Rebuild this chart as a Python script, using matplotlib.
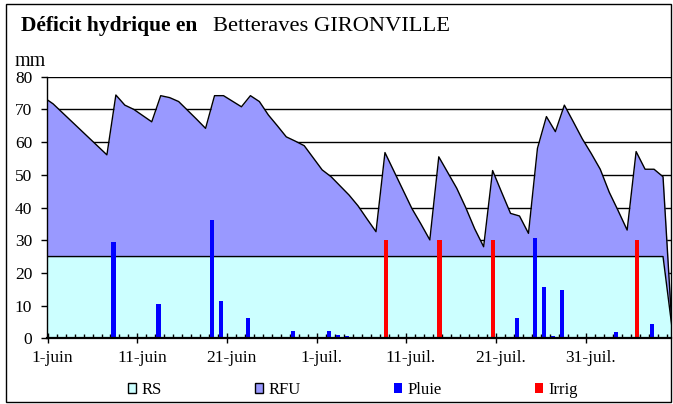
import matplotlib
matplotlib.use("Agg")
import matplotlib.pyplot as plt
from matplotlib.patches import Patch, Rectangle
from matplotlib.transforms import ScaledTranslation

plt.rcParams['font.family'] = ['Liberation Serif', 'DejaVu Serif']

# jour 0 = 1-juin (jour -1 = 31-mai, hors du cadre a gauche)
jours = list(range(-1, 70))
deficit_total = [
    73.6,
    71.7, 69.1, 66.5, 63.9, 61.3, 58.7, 56.1,
    74.4, 71.3, 70.0, 68.1, 66.2,
    74.2, 73.6, 72.4, 69.7, 67.0, 64.2,
    74.2, 74.2, 72.5, 70.8,
    74.2, 72.4, 68.3, 65.0, 61.6, 60.3, 58.9, 55.2, 51.5,
    49.4, 46.6, 43.8, 40.5, 36.5, 32.6,
    56.8, 51.1, 45.4, 39.7, 35.0, 30.1,
    55.5, 50.7, 45.9, 40.0, 33.5, 28.0,
    51.3, 44.7, 38.2, 37.4, 32.1,
    58.1, 67.8, 63.2, 71.3, 66.2, 61.0, 56.5, 51.7, 44.7, 39.0, 33.1,
    57.1, 51.7, 51.7, 49.4, 3.3,
]
rs = [25] * 70 + [3.3]

pluie_jours = [7, 12, 16, 18, 19, 20, 22, 23, 26, 27, 29, 31, 32, 33, 34, 36, 40,
               52, 54, 55, 56, 57, 63, 67]
pluie_mm = [29.5, 10.5, 0.5, 36.2, 11.4, 0.5, 6.3, 0.5, 0.5, 2.1, 0.5, 2.1, 1.0, 0.6,
            0.5, 0.5, 0.5, 6.3, 30.6, 15.6, 0.6, 14.8, 2.0, 4.3]

irrig_jours = [37, 43, 49, 65]
irrig_mm = [30, 30, 30, 30]

date_ticks = [0, 10, 20, 30, 40, 50, 60]
date_labels = ['1-juin', '11-juin', '21-juin', '1-juil.', '11-juil.', '21-juil.', '31-juil.']
y_ticks = [0, 10, 20, 30, 40, 50, 60, 70, 80]

# couleurs Excel
c_rs = '#CCFFFF'
c_rfu = '#9999FF'
c_pluie = '#0000FF'
c_irrig = '#FF0000'

fig = plt.figure(figsize=(6.73, 4.04), dpi=100)
ax = fig.add_axes([47.3 / 673, 1 - 338.3 / 404, (671.1 - 47.3) / 673, (338.3 - 76.7) / 404])

xa = [j + 0.6 for j in jours]
for v in y_ticks[1:]:
    ax.axhline(v, color='black', lw=1, zorder=0.5)

ax.fill_between(xa, 0, rs, color=c_rs, lw=0, zorder=1)
ax.fill_between(xa, rs, deficit_total, color=c_rfu, lw=0, zorder=1)
ax.plot(xa, rs, color='black', lw=1, zorder=2)
ax.plot(xa, deficit_total, color='black', lw=1, zorder=2)

ax.bar([j + 0.35 for j in pluie_jours], pluie_mm, width=0.48, color=c_pluie, zorder=3)
ax.bar([j + 0.68 for j in irrig_jours], irrig_mm, width=0.48, color=c_irrig, zorder=3)

ax.set_xlim(-0.045, 69.5)
ax.set_ylim(0, 80)
ax.set_yticks(y_ticks)
ax.set_xticks(date_ticks)
ax.set_xticklabels(date_labels)
ax.set_xticks(range(0, 70), minor=True)

ax.tick_params(axis='x', which='major', direction='inout', length=7, width=1,
               labelsize=12.5, pad=5)
ax.tick_params(axis='x', which='minor', direction='in', length=3, width=1)
ax.tick_params(axis='y', which='major', direction='out', length=4.4, width=1,
               labelsize=12.5, pad=6.5)

# etiquettes centrees dans la case du jour
shift = ScaledTranslation(4.5 / 100, 0, fig.dpi_scale_trans)
for lab in ax.get_xticklabels():
    lab.set_transform(lab.get_transform() + shift)

for s in ['top', 'right']:
    ax.spines[s].set_visible(False)
ax.spines['bottom'].set_linewidth(1.6)
ax.spines['left'].set_linewidth(1)
ax.spines['bottom'].set_zorder(4)

fig.text(20.7 / 673, 1 - 30.7 / 404, 'Déficit hydrique en', fontsize=15.5,
         fontweight='bold', va='baseline', ha='left')
fig.text(213 / 673, 1 - 30.7 / 404, 'Betteraves GIRONVILLE', fontsize=16.2,
         va='baseline', ha='left')
fig.text(15 / 673, 1 - 66 / 404, 'mm', fontsize=14.5, va='baseline', ha='left')

handles = [
    Patch(facecolor=c_rs, edgecolor='black', lw=1, label='RS'),
    Patch(facecolor=c_rfu, edgecolor='black', lw=1, label='RFU'),
    Patch(facecolor=c_pluie, edgecolor='none', label='Pluie'),
    Patch(facecolor=c_irrig, edgecolor='none', label='Irrig'),
]
fig.legend(handles=handles, loc='center', bbox_to_anchor=(0.524, 1 - 390 / 404),
           ncol=4, frameon=False, fontsize=12, handlelength=0.5, handleheight=0.5,
           handletextpad=0.3, columnspacing=5.6, borderaxespad=0)

fig.add_artist(Rectangle((6 / 673, 2 / 404), 665 / 673, 398 / 404,
                         transform=fig.transFigure, fill=False, lw=1, color='black'))

fig.savefig('out.png', dpi=100)
